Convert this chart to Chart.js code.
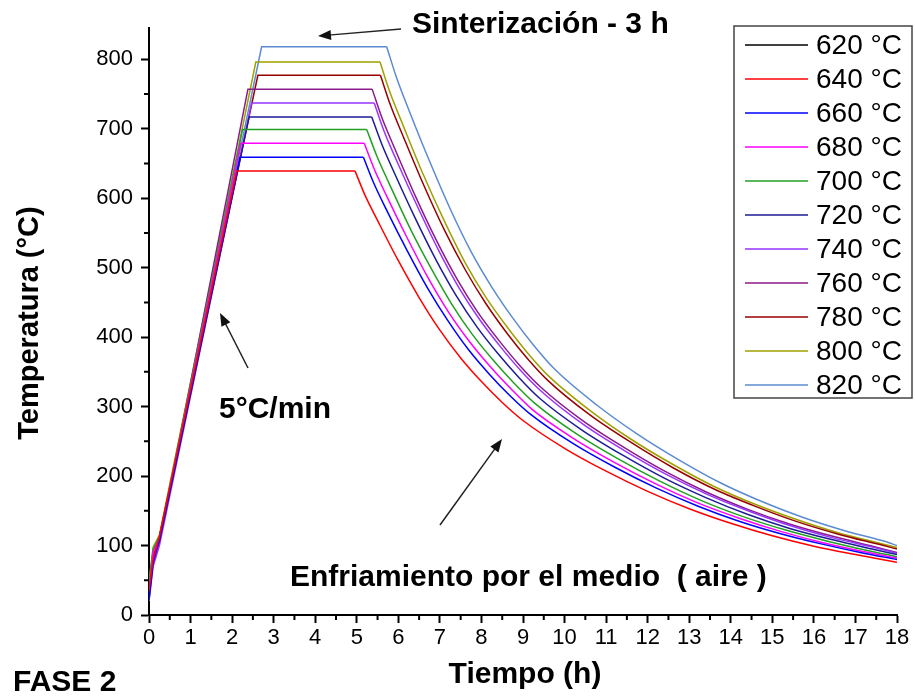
<!DOCTYPE html>
<html>
<head>
<meta charset="utf-8">
<script src="https://cdn.jsdelivr.net/npm/chart.js@4/dist/chart.umd.min.js"></script>
<style>
  html, body { margin: 0; padding: 0; background: #fff; }
  canvas { display: block; }
</style>
</head>
<body>
<canvas id="chart" width="915" height="698"></canvas>
<script>
// series: [tiempo (h), temperatura (°C)]
const labels = ['620 °C', '640 °C', '660 °C', '680 °C', '700 °C', '720 °C',
                '740 °C', '760 °C', '780 °C', '800 °C', '820 °C'];
const colors = ['#000000', '#ff0000', '#0000ff', '#ff00ff', '#22a022', '#1c1c96',
                '#9933ff', '#8b1a8b', '#990000', '#a0a000', '#5b8bd0'];

const s620 = [];
const s640 = [[0,35],[0.1,80],[0.25,112],[2.11,639],[4.96,639],[5.2,604],[5.5,568],[6.0,510],[6.5,457],[7.0,410],[7.5,370],[8.0,336],[8.5,306],[9.0,280],[10,240],[11,207],[12,178],[13,153],[14,132],[15,114],[16,99],[17,87],[18,76]];
const s660 = [[0,22],[0.1,75],[0.25,108],[2.19,659],[5.16,659],[5.4,623],[5.7,585],[6.2,526],[6.7,471],[7.2,423],[7.7,381],[8.2,346],[8.7,315],[9.2,288],[10.2,247],[11.2,213],[12.2,183],[13.2,157],[14.2,135],[15.2,117],[16.2,102],[17.2,89],[18,80]];
const s680 = [[0,30],[0.1,90],[0.25,110],[2.21,679],[5.18,679],[5.42,642],[5.72,603],[6.22,542],[6.72,485],[7.22,435],[7.72,393],[8.22,357],[8.72,325],[9.22,296],[10.22,254],[11.22,219],[12.22,188],[13.22,161],[14.22,139],[15.22,120],[16.22,104],[17.22,91],[18,82]];
const s700 = [[0,48],[0.1,95],[0.25,112],[2.25,699],[5.24,699],[5.48,661],[5.78,621],[6.28,557],[6.78,500],[7.28,448],[7.78,404],[8.28,367],[8.78,334],[9.28,305],[10.28,261],[11.28,225],[12.28,193],[13.28,165],[14.28,142],[15.28,123],[16.28,107],[17.28,93],[18,84]];
const s720 = [[0,25],[0.1,85],[0.25,106],[2.41,717],[5.36,717],[5.6,678],[5.9,637],[6.4,572],[6.9,512],[7.4,459],[7.9,414],[8.4,376],[8.9,342],[9.4,312],[10.4,267],[11.4,230],[12.4,197],[13.4,169],[14.4,145],[15.4,125],[16.4,109],[17.4,95],[18,87]];
const s740 = [[0,20],[0.1,70],[0.25,100],[2.47,737],[5.42,737],[5.66,696],[5.96,654],[6.46,588],[6.96,526],[7.46,471],[7.96,425],[8.46,386],[8.96,351],[9.46,321],[10.46,274],[11.46,236],[12.46,202],[13.46,173],[14.46,149],[15.46,128],[16.46,111],[17.46,97],[18,89]];
const s760 = [[0,28],[0.1,82],[0.25,104],[2.38,757],[5.37,757],[5.61,715],[5.91,672],[6.41,603],[6.91,540],[7.41,484],[7.91,436],[8.41,396],[8.91,360],[9.41,329],[10.41,281],[11.41,242],[12.41,207],[13.41,177],[14.41,152],[15.41,131],[16.41,114],[17.41,99],[18,90]];
const s780 = [[0,40],[0.1,92],[0.25,113],[2.62,777],[5.57,777],[5.81,734],[6.11,690],[6.61,619],[7.11,554],[7.61,497],[8.11,448],[8.61,406],[9.11,369],[9.61,337],[10.61,288],[11.61,248],[12.61,212],[13.61,181],[14.61,156],[15.61,134],[16.61,116],[17.61,101],[18,95]];
const s800 = [[0,45],[0.1,98],[0.25,115],[2.57,796],[5.56,796],[5.8,752],[6.1,707],[6.6,634],[7.1,568],[7.6,508],[8.1,458],[8.6,416],[9.1,378],[9.6,345],[10.6,295],[11.6,253],[12.6,217],[13.6,185],[14.6,159],[15.6,137],[16.6,118],[17.6,103],[18,97]];
const s820 = [[0,33],[0.1,88],[0.25,110],[2.71,818],[5.72,818],[5.96,773],[6.26,726],[6.76,652],[7.26,583],[7.76,522],[8.26,471],[8.76,427],[9.26,388],[9.76,354],[10.76,303],[11.76,260],[12.76,223],[13.76,190],[14.76,163],[15.76,140],[16.76,121],[17.76,105],[18,100]];

const series = [s620, s640, s660, s680, s700, s720, s740, s760, s780, s800, s820];

const xMin = 0, xMax = 18;
const yMin = 0, yMax = 845;

const FONT = "'Liberation Sans', Arial, sans-serif";

// heating + plateau drawn straight, cooling drawn as a smooth curve
var datasets = [];
series.forEach(function (s, i) {
    datasets.push({
        label: labels[i],
        data: s.slice(0, 5),
        borderColor: colors[i],
        borderWidth: 1.5,
        pointRadius: 0,
        tension: 0,
    });
});
series.forEach(function (s, i) {
    datasets.push({
        label: labels[i] + ' enfriamiento',
        data: s.slice(4),
        borderColor: colors[i],
        borderWidth: 1.5,
        pointRadius: 0,
        cubicInterpolationMode: 'monotone',
    });
});

function arrow(ctx, x1, y1, x2, y2) {
    var a = Math.atan2(y2 - y1, x2 - x1);
    var len = 13, w = 5;
    ctx.strokeStyle = '#222';
    ctx.fillStyle = '#111';
    ctx.lineWidth = 1.5;
    ctx.beginPath();
    ctx.moveTo(x1, y1);
    ctx.lineTo(x2 - Math.cos(a) * len * 0.8, y2 - Math.sin(a) * len * 0.8);
    ctx.stroke();
    ctx.beginPath();
    ctx.moveTo(x2, y2);
    ctx.lineTo(x2 - Math.cos(a) * len - Math.sin(a) * w, y2 - Math.sin(a) * len + Math.cos(a) * w);
    ctx.lineTo(x2 - Math.cos(a) * len + Math.sin(a) * w, y2 - Math.sin(a) * len - Math.cos(a) * w);
    ctx.closePath();
    ctx.fill();
}

const extras = {
    id: 'extras',
    afterDraw: function (chart) {
        var ctx = chart.ctx;
        var x = chart.scales.x, y = chart.scales.y;
        ctx.save();
        // minor ticks
        ctx.strokeStyle = '#000';
        ctx.lineWidth = 2;
        ctx.beginPath();
        x.ticks.forEach(function (t) {
            if (t.value % 1 !== 0) {
                var px = x.getPixelForValue(t.value);
                ctx.moveTo(px, x.top);
                ctx.lineTo(px, x.top + 5);
            }
        });
        y.ticks.forEach(function (t) {
            if (t.value % 100 !== 0) {
                var py = y.getPixelForValue(t.value);
                ctx.moveTo(y.right, py);
                ctx.lineTo(y.right - 5, py);
            }
        });
        ctx.stroke();

        // axis titles and notes
        ctx.fillStyle = '#000';
        ctx.font = 'bold 30px ' + FONT;
        ctx.textBaseline = 'middle';
        ctx.textAlign = 'center';
        ctx.fillText('Tiempo (h)', 525, 675);
        ctx.save();
        ctx.translate(30, 323);
        ctx.rotate(-Math.PI / 2);
        ctx.font = 'bold 29px ' + FONT;
        ctx.fillText('Temperatura (°C)', 0, 0);
        ctx.restore();
        ctx.textAlign = 'left';
        ctx.fillText('FASE 2', 13, 683);
        ctx.fillText('Sinterización - 3 h', 412, 25);
        ctx.fillText('5°C/min', 219, 410);
        ctx.fillText('Enfriamiento por el medio  ( aire )', 290, 578);

        arrow(ctx, 401, 29, 318, 36);
        arrow(ctx, 248, 368, 220, 313);
        arrow(ctx, 440, 525, 502, 439);

        // legend
        ctx.fillStyle = '#fff';
        ctx.fillRect(734, 26, 178, 372);
        ctx.strokeStyle = '#444';
        ctx.lineWidth = 1.5;
        ctx.strokeRect(734, 26, 178, 372);
        ctx.font = '28px ' + FONT;
        ctx.textBaseline = 'middle';
        for (var i = 0; i < labels.length; i++) {
            var ly = 45 + i * 34;
            ctx.strokeStyle = colors[i];
            ctx.lineWidth = 1.5;
            ctx.beginPath();
            ctx.moveTo(745, ly);
            ctx.lineTo(808, ly);
            ctx.stroke();
            ctx.fillStyle = '#000';
            ctx.fillText(labels[i], 816, ly + 1);
        }
        ctx.restore();
    }
};

var chart = new Chart(document.getElementById('chart'), {
    type: 'line',
    data: { datasets: datasets },
    options: {
        responsive: false,
        animation: false,
        devicePixelRatio: 1,
        layout: { padding: { left: 0, top: 28, right: 18, bottom: 0 } },
        plugins: {
            legend: { display: false },
            tooltip: { enabled: false },
        },
        scales: {
            x: {
                type: 'linear',
                min: xMin,
                max: xMax,
                afterFit: function (s) { s.height = 83; },
                afterBuildTicks: function (s) {
                    var t = [];
                    for (var v = xMin; v <= xMax; v += 0.5) t.push({ value: v });
                    s.ticks = t;
                },
                border: { display: true, color: '#000', width: 2 },
                grid: {
                    drawOnChartArea: false,
                    drawTicks: true,
                    tickLength: 8,
                    tickWidth: 2,
                    tickColor: function (c) { return c.tick && c.tick.value % 1 === 0 ? '#000' : 'rgba(0,0,0,0)'; },
                },
                ticks: {
                    autoSkip: false,
                    maxRotation: 0,
                    padding: 2,
                    color: '#000',
                    font: { family: FONT, size: 22 },
                    callback: function (v) { return v % 1 === 0 ? String(v) : ''; },
                },
            },
            y: {
                type: 'linear',
                min: yMin,
                max: yMax,
                afterFit: function (s) { s.width = 149; },
                afterBuildTicks: function (s) {
                    var t = [];
                    for (var v = 0; v <= 800; v += 50) t.push({ value: v });
                    s.ticks = t;
                },
                border: { display: true, color: '#000', width: 2 },
                grid: {
                    drawOnChartArea: false,
                    drawTicks: true,
                    tickLength: 8,
                    tickWidth: 2,
                    tickColor: function (c) { return c.tick && c.tick.value % 100 === 0 ? '#000' : 'rgba(0,0,0,0)'; },
                },
                ticks: {
                    autoSkip: false,
                    padding: 8,
                    color: '#000',
                    font: { family: FONT, size: 22 },
                    callback: function (v) { return v % 100 === 0 ? String(v) : ''; },
                },
            },
        },
    },
    plugins: [extras],
});
</script>
</body>
</html>
